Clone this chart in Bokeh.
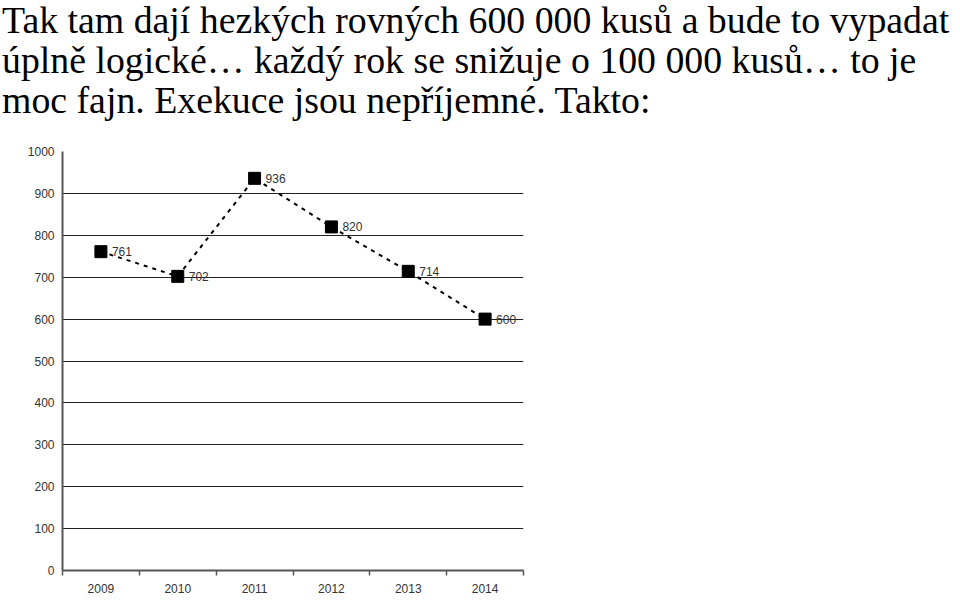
from bokeh.plotting import figure
from bokeh.models import Range1d, FixedTicker, ColumnDataSource, LabelSet, Div
from bokeh.layouts import column
from bokeh.core.properties import value
from bokeh.embed import file_html
from bokeh.resources import INLINE

title_lines = [
    "Tak tam dají hezkých rovných 600 000 kusů a bude to vypadat",
    "úplně logické… každý rok se snižuje o 100 000 kusů… to je",
    "moc fajn. Exekuce jsou nepříjemné. Takto:",
]
years = [2009, 2010, 2011, 2012, 2013, 2014]
units = [761, 702, 936, 820, 714, 600]
y_ticks = [0, 100, 200, 300, 400, 500, 600, 700, 800, 900, 1000]
grid_ticks = [100, 200, 300, 400, 500, 600, 700, 800, 900]

W = 960
DIV_H = 138
FIG_H = 469

title_html = ('<div style="font-family: \'Liberation Serif\'; font-size: 37.8px; line-height: 40px; '
              'color: black; white-space: nowrap; margin: 0; padding: 0 0 0 2px;">'
              + "<br>".join(title_lines) + "</div>")
div = Div(text=title_html, width=W, height=DIV_H, margin=(0, 0, 0, 0))

p = figure(width=W, height=FIG_H, output_backend="svg", toolbar_location=None,
           x_range=Range1d(years[0] - 0.5, years[-1] + 0.5), y_range=Range1d(0, 1000),
           min_border_left=62, min_border_right=437, min_border_top=13, min_border_bottom=37,
           margin=(0, 0, 0, 0))
p.outline_line_color = None
p.background_fill_color = "white"
p.border_fill_color = "white"

# axes
p.xaxis.ticker = FixedTicker(ticks=years, minor_ticks=[y - 0.5 for y in years] + [years[-1] + 0.5])
p.xaxis.major_tick_out = 0
p.xaxis.major_tick_in = 0
p.xaxis.minor_tick_out = 5
p.xaxis.minor_tick_in = 0
p.xaxis.minor_tick_line_color = "#555555"
p.xaxis.minor_tick_line_width = 1.5
p.xaxis.major_label_standoff = 8
p.yaxis.ticker = FixedTicker(ticks=y_ticks)
p.yaxis.major_tick_out = 4
p.yaxis.major_tick_in = 0
p.yaxis.minor_tick_line_color = None
p.yaxis.major_label_standoff = 4
for ax in (p.xaxis, p.yaxis):
    ax.axis_line_color = "#555555"
    ax.axis_line_width = 2
    ax.major_tick_line_color = "#555555" if ax is p.yaxis else None
    ax.major_tick_line_width = 1.5
    ax.major_label_text_font = "Liberation Sans"
    ax.major_label_text_font_size = "12px"
    ax.major_label_text_color = "#333333"
p.xaxis.formatter.use_scientific = False

p.xgrid.grid_line_color = None
p.ygrid.ticker = FixedTicker(ticks=grid_ticks)
p.ygrid.grid_line_color = "#222222"
p.ygrid.grid_line_width = 1.2

src = ColumnDataSource(dict(x=years, y=units, t=[str(v) for v in units]))
p.line("x", "y", source=src, line_color="black", line_width=2, line_dash="4 5")
p.scatter("x", "y", source=src, marker="square", size=12, fill_color="black", line_color="black")
p.add_layout(LabelSet(x="x", y="y", text="t", source=src, x_offset=11, y_offset=0,
                      text_baseline="middle", text_align="left",
                      text_font=value("Liberation Sans"), text_font_size=value("12px"),
                      text_color="#333333"))

layout = column(div, p, spacing=0, margin=(0, 0, 0, 0))
open("out.html", "w").write(file_html(layout, INLINE))
